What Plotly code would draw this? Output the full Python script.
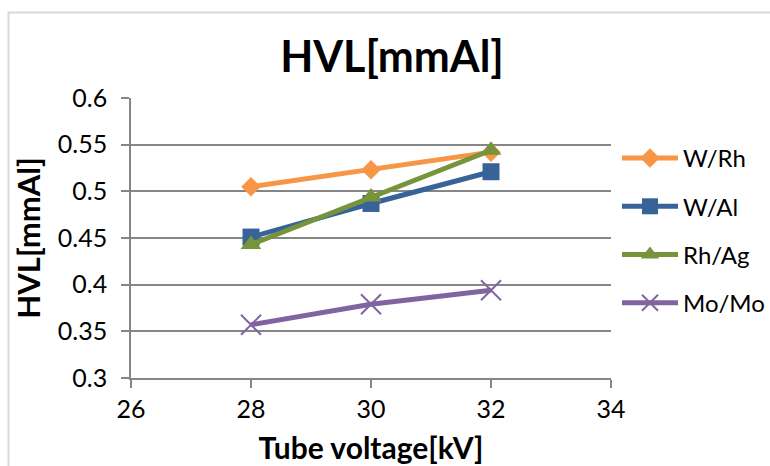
import plotly.graph_objects as go

# Tube voltage settings [kV]
voltage = [28, 30, 32]

# Half-value layer [mmAl] per target/filter combination
w_rh = [0.505, 0.523, 0.542]
w_al = [0.451, 0.487, 0.521]
rh_ag = [0.443, 0.494, 0.544]
mo_mo = [0.357, 0.379, 0.394]

series_names = ["W/Rh", "W/Al", "Rh/Ag", "Mo/Mo"]
series_values = [w_rh, w_al, rh_ag, mo_mo]
series_colors = ["#F79646", "#386399", "#77933C", "#8064A2"]
series_symbols = ["diamond", "square", "triangle-up", "x-thin"]
series_sizes = [15, 17, 18, 20]

x_ticks = [26, 28, 30, 32, 34]
y_ticks = [0.3, 0.35, 0.4, 0.45, 0.5, 0.55, 0.6]

FONT = "Lato"
W, H = 770, 466
L, R, T, B = 131, 611, 98, 378  # plot area in pixels


def px_x(p):
    return (p - L) / (R - L)


def px_y(p):
    return (B - p) / (B - T)


fig = go.Figure()
for i, (name, vals, col, sym, sz) in enumerate(
    zip(series_names, series_values, series_colors, series_symbols, series_sizes)
):
    marker = dict(symbol=sym, size=sz, color=col)
    if sym == "x-thin":
        marker["line"] = dict(color=col, width=2)
    fig.add_trace(
        go.Scatter(
            x=voltage,
            y=vals,
            name=name,
            mode="lines+markers",
            line=dict(color=col, width=5),
            marker=marker,
            legendgroup=name,
        )
    )

fig.update_layout(
    width=W,
    height=H,
    margin=dict(l=L, r=W - R, t=T, b=H - B, autoexpand=False),
    paper_bgcolor="white",
    plot_bgcolor="white",
    font=dict(family=FONT, color="black", size=25),
    title=dict(
        text="<b>HVL[mmAl]</b>",
        font=dict(family=FONT, size=43, color="black"),
        x=392 / W,
        xanchor="center",
        y=1 - 57 / H,
        yanchor="middle",
        xref="container",
        yref="container",
    ),
    xaxis=dict(
        range=[26, 34],
        tickvals=x_ticks,
        ticktext=[str(v) for v in x_ticks],
        showgrid=False,
        zeroline=False,
        showline=True,
        linecolor="#868686",
        linewidth=1.5,
        ticks="outside",
        ticklen=8,
        tickwidth=1.5,
        tickcolor="#868686",
        tickfont=dict(family=FONT, size=25, color="black"),
        title=dict(
            text="<b>Tube voltage[kV]</b>",
            font=dict(family=FONT, size=30, color="black"),
            standoff=16,
        ),
    ),
    yaxis=dict(
        range=[0.3, 0.6],
        tickvals=y_ticks,
        ticktext=[f"{v:g}" for v in y_ticks],
        showgrid=True,
        gridcolor="#868686",
        gridwidth=1.5,
        zeroline=False,
        showline=True,
        linecolor="#868686",
        linewidth=1.5,
        ticks="outside",
        ticklen=8,
        tickwidth=1.5,
        tickcolor="#868686",
        ticklabelstandoff=9,
        tickfont=dict(family=FONT, size=25, color="black"),
        title=dict(
            text="<b>HVL[mmAl]</b>",
            font=dict(family=FONT, size=31, color="black"),
            standoff=8,
        ),
    ),
    legend=dict(
        x=px_x(617),
        y=px_y(136),
        xanchor="left",
        yanchor="top",
        font=dict(family=FONT, size=24, color="black"),
        bgcolor="rgba(0,0,0,0)",
        traceorder="grouped",
        tracegroupgap=14,
        itemwidth=56,
    ),
    showlegend=True,
)

# Chart frame
fig.add_shape(
    type="rect",
    xref="paper",
    yref="paper",
    x0=px_x(8.5),
    x1=px_x(790),
    y0=px_y(490),
    y1=px_y(12.5),
    line=dict(color="#D9D9D9", width=2),
    fillcolor="rgba(0,0,0,0)",
    layer="below",
)

fig.write_html("out.html")
